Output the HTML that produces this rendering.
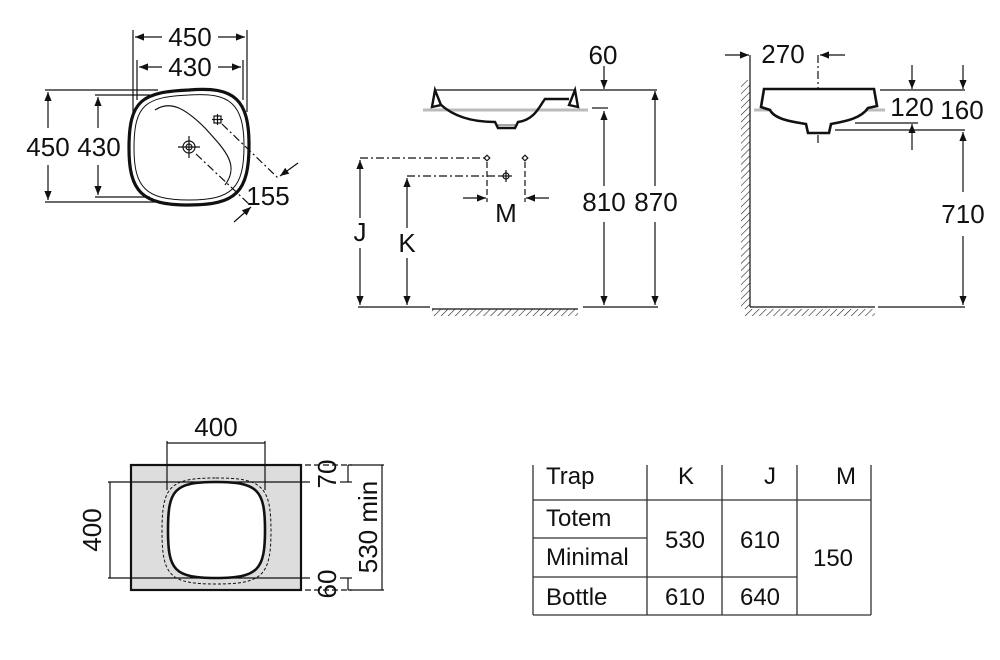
<!DOCTYPE html>
<html><head><meta charset="utf-8"><style>
html,body{margin:0;padding:0;background:#fff}
svg{display:block}
text{font-family:"Liberation Sans",sans-serif;fill:#111}
</style></head><body>
<svg width="1000" height="660" viewBox="0 0 1000 660" xmlns="http://www.w3.org/2000/svg">
<defs>
<marker id="a" viewBox="0 0 10 10" refX="10" refY="5" markerWidth="9" markerHeight="9" orient="auto-start-reverse" markerUnits="userSpaceOnUse"><path d="M0,1 L10,5 L0,9 Z" fill="#111"/></marker>
<pattern id="h" width="5" height="5" patternUnits="userSpaceOnUse" patternTransform="rotate(45)"><line x1="0" y1="0" x2="0" y2="5" stroke="#222" stroke-width="1.2"/></pattern>
</defs>
<g stroke="#111" stroke-width="1.2" fill="none">
<!-- TOP VIEW -->
<line x1="133" y1="30" x2="133" y2="112"/><line x1="247" y1="30" x2="247" y2="112"/>
<line x1="137" y1="60" x2="137" y2="100"/><line x1="243" y1="60" x2="243" y2="100"/>
<line x1="135" y1="37" x2="162" y2="37" marker-start="url(#a)"/><line x1="218" y1="37" x2="245" y2="37" marker-end="url(#a)"/>
<line x1="139" y1="67" x2="162" y2="67" marker-start="url(#a)"/><line x1="218" y1="67" x2="241" y2="67" marker-end="url(#a)"/>
<line x1="45" y1="90" x2="158" y2="90"/><line x1="45" y1="202" x2="158" y2="202"/>
<line x1="95" y1="95" x2="150" y2="95"/><line x1="95" y1="197" x2="150" y2="197"/>
<line x1="48" y1="92" x2="48" y2="128" marker-start="url(#a)"/><line x1="48" y1="165" x2="48" y2="200" marker-end="url(#a)"/>
<line x1="98" y1="97" x2="98" y2="128" marker-start="url(#a)"/><line x1="98" y1="165" x2="98" y2="195" marker-end="url(#a)"/>
<path d="M189,90 C235,86 249,100 249,145 C249,192 236,205 189,205 C142,205 129,192 129,148 C129,100 142,92 189,90 Z" stroke-width="3.2"/>
<path d="M189,95 C230,92 244,104 244,146 C244,188 232,200 189,200 C146,200 134,188 134,148 C134,104 146,97 189,95 Z" stroke-width="1"/>
<path d="M155,110 C170,100 185,108 205,128 C225,150 240,165 225,185" stroke-width="1.2"/>
<circle cx="189" cy="147" r="6"/><circle cx="189" cy="147" r="3"/>
<line x1="178" y1="147" x2="200" y2="147"/><line x1="189" y1="136" x2="189" y2="158"/>
<rect x="214" y="116" width="7" height="7"/>
<line x1="212" y1="119.5" x2="223" y2="119.5"/><line x1="217.5" y1="114" x2="217.5" y2="125"/>
<line x1="196" y1="154" x2="250" y2="205" stroke-dasharray="8,3,2,3"/>
<line x1="222" y1="124" x2="278" y2="178" stroke-dasharray="8,3,2,3"/>
<line x1="298" y1="163" x2="280" y2="176" marker-end="url(#a)"/>
<line x1="234" y1="222" x2="251" y2="207" marker-end="url(#a)"/>
<!-- FRONT VIEW -->
<line x1="423" y1="110" x2="588" y2="110" stroke="#bbb" stroke-width="3"/>
<line x1="435" y1="90" x2="575" y2="90"/>
<path d="M435,90 L432,107 L441,105 Z M575,90 L578,107 L569,105 Z" stroke-width="2.4"/>
<path d="M440,104 C455,118 475,122 495,122 L498,128 L515,128 L518,122 C535,120 540,105 545,99 L569,99" stroke-width="2.5"/>
<line x1="498" y1="125" x2="515" y2="125" stroke-width="0.8"/>
<line x1="580" y1="90" x2="657" y2="90"/><line x1="592" y1="108" x2="608" y2="108"/>
<line x1="604" y1="66" x2="604" y2="89" marker-end="url(#a)"/>
<line x1="604" y1="111" x2="604" y2="186" marker-start="url(#a)"/><line x1="604" y1="222" x2="604" y2="305" marker-end="url(#a)"/>
<line x1="655" y1="91" x2="655" y2="186" marker-start="url(#a)"/><line x1="655" y1="222" x2="655" y2="305" marker-end="url(#a)"/>
<line x1="358" y1="307" x2="430" y2="307"/><line x1="583" y1="307" x2="658" y2="307"/>
<line x1="432" y1="309" x2="578" y2="309"/>
<rect x="432" y="309" width="146" height="7" fill="url(#h)" stroke="none"/>
<line x1="360" y1="158" x2="485" y2="158" stroke-dasharray="8,3,2,3"/>
<line x1="407" y1="176" x2="500" y2="176" stroke-dasharray="8,3,2,3"/>
<line x1="360" y1="160" x2="360" y2="218" marker-start="url(#a)"/><line x1="360" y1="248" x2="360" y2="305" marker-end="url(#a)"/>
<line x1="407" y1="178" x2="407" y2="228" marker-start="url(#a)"/><line x1="407" y1="258" x2="407" y2="305" marker-end="url(#a)"/>
<rect x="485" y="156" width="4" height="4" transform="rotate(45 487 158)"/>
<rect x="523" y="156" width="4" height="4" transform="rotate(45 525 158)"/>
<circle cx="506" cy="176" r="3"/><line x1="500" y1="176" x2="512" y2="176"/><line x1="506" y1="170" x2="506" y2="182"/>
<line x1="487" y1="162" x2="487" y2="202" stroke-dasharray="6,3"/>
<line x1="525" y1="162" x2="525" y2="202" stroke-dasharray="6,3"/>
<line x1="463" y1="198" x2="486" y2="198" marker-end="url(#a)"/>
<line x1="549" y1="198" x2="526" y2="198" marker-end="url(#a)"/>
<!-- SIDE VIEW -->
<line x1="750" y1="55" x2="750" y2="307"/>
<rect x="741" y="80" width="9" height="229" fill="url(#h)" stroke="none"/>
<line x1="750" y1="307" x2="875" y2="307"/>
<rect x="745" y="309" width="130" height="7" fill="url(#h)" stroke="none"/>
<line x1="878" y1="307" x2="965" y2="307"/>
<line x1="725" y1="55" x2="749" y2="55" marker-end="url(#a)"/>
<line x1="845" y1="55" x2="820" y2="55" marker-end="url(#a)"/>
<line x1="818" y1="55" x2="818" y2="145" stroke-dasharray="8,3,2,3"/>
<line x1="754" y1="110" x2="885" y2="110" stroke="#bbb" stroke-width="3"/>
<path d="M764,89 L874,89 L877,106 L868,108 C860,120 840,122 831,124 L829,133 L808,133 L806,124 C795,122 775,120 770,110 L761,107 Z" stroke-width="2.6" fill="#fff"/>
<line x1="880" y1="90" x2="965" y2="90"/>
<line x1="855" y1="123" x2="918" y2="123"/>
<line x1="835" y1="130" x2="965" y2="130"/>
<line x1="912" y1="65" x2="912" y2="89" marker-end="url(#a)"/>
<line x1="912" y1="150" x2="912" y2="124" marker-end="url(#a)"/>
<line x1="963" y1="65" x2="963" y2="89" marker-end="url(#a)"/>
<line x1="963" y1="132" x2="963" y2="192" marker-start="url(#a)"/><line x1="963" y1="236" x2="963" y2="305" marker-end="url(#a)"/>
<!-- CUTOUT -->
<rect x="131" y="465" width="170" height="125" fill="#ddd" stroke-width="2.2"/>
<path d="M216,478 C262,478 271,486 271,531 C271,576 262,584 216,584 C170,584 162,576 162,531 C162,486 170,478 216,478 Z" stroke-dasharray="3,2" stroke-width="1"/>
<path d="M216,482 C258,482 265,490 265,530 C265,570 258,578 216,578 C174,578 168,570 168,530 C168,490 174,482 216,482 Z" fill="#fff" stroke-width="2.6"/>
<line x1="167" y1="443" x2="265" y2="443"/><line x1="167" y1="441" x2="167" y2="490"/><line x1="265" y1="441" x2="265" y2="490"/>
<line x1="110" y1="482" x2="110" y2="578"/><line x1="108" y1="482" x2="310" y2="482"/><line x1="108" y1="578" x2="310" y2="578"/>
<line x1="305" y1="465" x2="352" y2="465" stroke-dasharray="6,3"/>
<line x1="305" y1="590" x2="352" y2="590" stroke-dasharray="6,3"/>
<line x1="340" y1="482" x2="352" y2="482"/><line x1="340" y1="578" x2="352" y2="578"/>
<line x1="348" y1="465" x2="348" y2="482"/><line x1="348" y1="578" x2="348" y2="590"/>
<line x1="348" y1="465" x2="384" y2="465"/><line x1="348" y1="590" x2="384" y2="590"/>
<line x1="382" y1="465" x2="382" y2="590"/>
<!-- TABLE -->
<g stroke="#333" stroke-width="1.3">
<line x1="533" y1="465" x2="533" y2="615"/><line x1="647" y1="465" x2="647" y2="615"/>
<line x1="722" y1="465" x2="722" y2="615"/><line x1="797" y1="465" x2="797" y2="615"/>
<line x1="871" y1="465" x2="871" y2="615"/>
<line x1="533" y1="500" x2="871" y2="500"/><line x1="533" y1="538" x2="647" y2="538"/>
<line x1="533" y1="577" x2="797" y2="577"/><line x1="533" y1="615" x2="871" y2="615"/>
</g>
</g>
<g font-size="26">
<text x="190" y="46" text-anchor="middle">450</text>
<text x="190" y="76" text-anchor="middle">430</text>
<text x="48" y="156" text-anchor="middle">450</text>
<text x="99" y="156" text-anchor="middle">430</text>
<text x="268" y="205" text-anchor="middle">155</text>
<text x="603" y="64" text-anchor="middle">60</text>
<text x="604" y="211" text-anchor="middle">810</text>
<text x="656" y="211" text-anchor="middle">870</text>
<text x="360" y="241" text-anchor="middle">J</text>
<text x="407" y="252" text-anchor="middle">K</text>
<text x="506" y="222" text-anchor="middle">M</text>
<text x="783" y="63" text-anchor="middle">270</text>
<text x="912" y="116" text-anchor="middle">120</text>
<text x="962" y="119" text-anchor="middle">160</text>
<text x="963" y="223" text-anchor="middle">710</text>
<text x="216" y="436" text-anchor="middle">400</text>
<text transform="translate(101,530) rotate(-90)" text-anchor="middle">400</text>
<text transform="translate(336,474) rotate(-90)" text-anchor="middle">70</text>
<text transform="translate(336,584) rotate(-90)" text-anchor="middle">60</text>
<text transform="translate(377,527) rotate(-90)" text-anchor="middle">530 min</text>
</g>
<g font-size="24">
<text x="546" y="484">Trap</text>
<text x="686" y="484" text-anchor="middle">K</text>
<text x="770" y="484" text-anchor="middle">J</text>
<text x="846" y="484" text-anchor="middle">M</text>
<text x="546" y="526">Totem</text>
<text x="546" y="565">Minimal</text>
<text x="546" y="605">Bottle</text>
<text x="685" y="548" text-anchor="middle">530</text>
<text x="760" y="548" text-anchor="middle">610</text>
<text x="833" y="566" text-anchor="middle">150</text>
<text x="685" y="605" text-anchor="middle">610</text>
<text x="760" y="605" text-anchor="middle">640</text>
</g>
</svg>
</body></html>
